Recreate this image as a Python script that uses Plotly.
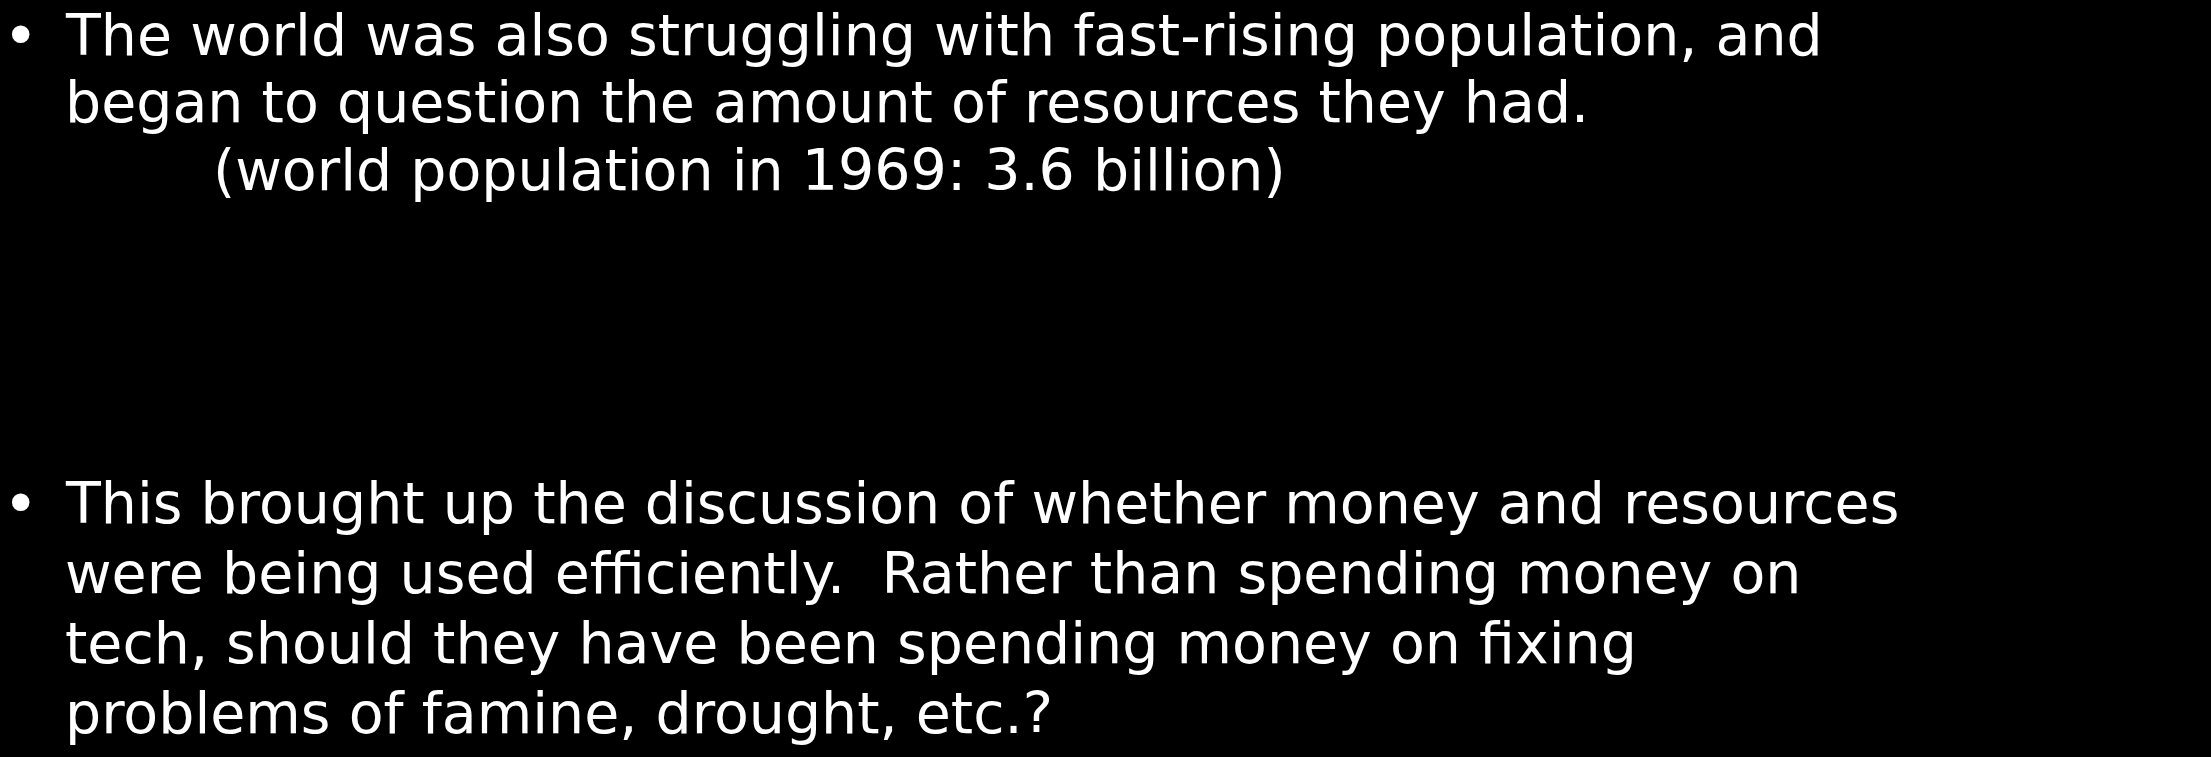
import plotly.graph_objects as go

# Slide text content
bullet_1_lines = [
    "The world was also struggling with fast-rising population, and",
    "began to question the amount of resources they had.",
    "(world population in 1969: 3.6 billion)",
]
bullet_2_lines = [
    "This brought up the discussion of whether money and resources",
    "were being used efficiently.  Rather than spending money on",
    "tech, should they have been spending money on fixing",
    "problems of famine, drought, etc.?",
]
bullet_symbol = "•"

W, H = 2211, 757
FONT = "DejaVu Sans"
SIZE = 57
COLOR = "#ffffff"

fig = go.Figure()
annotations = []

def add_line(text, x_px, baseline_px, size=SIZE):
    annotations.append(dict(
        text=text, x=x_px / W, y=1 - (baseline_px + 0.26 * size) / H,
        xref="paper", yref="paper", xanchor="left", yanchor="bottom",
        showarrow=False, font=dict(family=FONT, size=size, color=COLOR),
        borderpad=0,
    ))

block1_base = [54, 121, 189]
block1_x = [64, 64, 212]
for t, b, x in zip(bullet_1_lines, block1_base, block1_x):
    add_line(t, x, b)
block2_base = [522, 592, 662, 732]
for t, b in zip(bullet_2_lines, block2_base):
    add_line(t, 64, b)
add_line(bullet_symbol, 2, block1_base[0] + 2, 60)
add_line(bullet_symbol, 2, block2_base[0] + 2, 60)

fig.update_layout(
    width=W, height=H,
    margin=dict(l=0, r=0, t=0, b=0),
    paper_bgcolor="#000000", plot_bgcolor="#000000",
    xaxis=dict(visible=False, range=[0, 1]),
    yaxis=dict(visible=False, range=[0, 1]),
    annotations=annotations,
    showlegend=False,
)
fig.write_html(
    "out.html",
    config={"displayModeBar": False},
    post_script="document.body.style.margin='0';document.body.style.background='#000';",
)
